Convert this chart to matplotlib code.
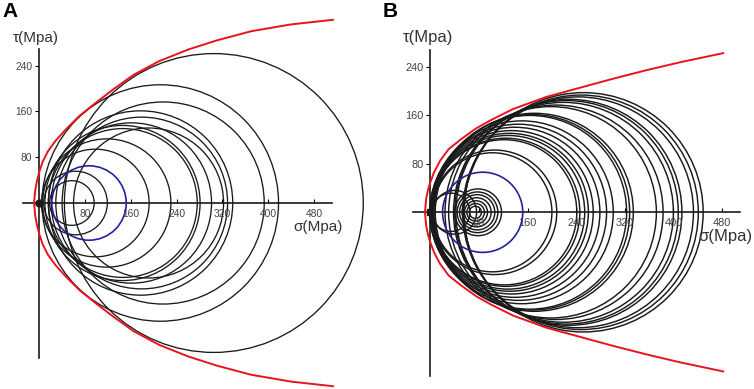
import matplotlib.pyplot as plt
from matplotlib.patches import Circle

plt.rcParams['font.family'] = ['Liberation Sans', 'DejaVu Sans']

# ---- panel A: Mohr circles (sigma3, sigma1) in MPa
a_sigma3 = [44, 5, 40, 16, 29, 60, 21, 10, 16, 6, 4, 8, 18]
a_sigma1 = [566, 418, 393, 338, 329, 322, 301, 281, 276, 230, 192, 119, 96]
a_blue = (22, 152)
# failure envelope (upper branch)
a_env_sigma = [-9, -7, -4, 0, 6, 15, 28, 45, 70, 100, 130, 165, 210, 260, 310, 370, 440, 513]
a_env_tau = [0, 22, 38, 54, 72, 90, 108, 127, 152, 176, 199, 224, 248, 268, 284, 300, 312, 320]

# ---- panel B
b_sigma3 = [55, 55, 53, 42, 40, 38, 30, 24, 8, 6, 4, 0, 0, -1, -1, 0, 1, 2, 2, 3, 4,
            2, 4, 40, 44, 48, 52, 56, 60, 64]
b_sigma1 = [449, 441, 433, 414, 408, 400, 383, 372, 334, 328, 323, 301, 290, 279, 268, 260, 254, 246, 241, 208, 200,
            65, 76, 117, 111, 106, 100, 94, 89, 84]
b_blue = (20, 152)
b_env_sigma = [-9, -7, -4, 0, 6, 16, 30, 50, 75, 100, 136, 191, 246, 301, 356, 411, 482]
b_env_tau = [0, 22, 37, 50, 66, 85, 104, 120, 138, 152, 170, 190, 205, 220, 234, 247, 262]

xticks = [80, 160, 240, 320, 400, 480]
yticks = [80, 160, 240]


def draw_panel(ax, s3, s1, blue, env_s, env_t, xlim, ylim, xbounds, ybounds,
               fs_tick, fs_lab, tau_xy, sig_xy, dot, lw):
    for lo, hi in zip(s3, s1):
        ax.add_patch(Circle(((lo + hi) / 2, 0), (hi - lo) / 2, fill=False,
                            ec='#1a1a1a', lw=lw))
    ax.add_patch(Circle(((blue[0] + blue[1]) / 2, 0), (blue[1] - blue[0]) / 2,
                        fill=False, ec='#22229a', lw=1.2, zorder=3))
    ax.plot(env_s, env_t, color='#e8141c', lw=1.4, zorder=4)
    ax.plot(env_s, [-t for t in env_t], color='#e8141c', lw=1.4, zorder=4)
    ax.plot([0], [0], marker=dot, color='#1a1a1a', ms=5, zorder=5)

    ax.set_xlim(*xlim)
    ax.set_ylim(*ylim)
    ax.patch.set_visible(False)
    for s in ['top', 'right']:
        ax.spines[s].set_visible(False)
    ax.spines['left'].set_position(('data', 0))
    ax.spines['bottom'].set_position(('data', 0))
    ax.spines['bottom'].set_bounds(*xbounds)
    ax.spines['left'].set_bounds(*ybounds)
    for s in ['left', 'bottom']:
        ax.spines[s].set_linewidth(1.2)
        ax.spines[s].set_color('#1a1a1a')
        ax.spines[s].set_zorder(2)
    ax.set_xticks(xticks)
    ax.set_yticks(yticks)
    ax.tick_params(axis='x', direction='in', length=3, width=0.8, pad=4,
                   labelsize=fs_tick, labelcolor='#444444')
    ax.tick_params(axis='y', direction='out', length=3, width=0.8, pad=2,
                   labelsize=fs_tick, labelcolor='#444444')
    ax.text(tau_xy[0], tau_xy[1], 'τ(Mpa)', ha='center', va='center',
            fontsize=fs_lab, color='#333333')
    ax.text(sig_xy[0], sig_xy[1], 'σ(Mpa)', ha='center', va='center',
            fontsize=fs_lab, color='#333333')


fig = plt.figure(figsize=(7.54, 3.89), dpi=100)

ax_a = fig.add_axes([0, 0, 375 / 754, 1])
draw_panel(ax_a, a_sigma3, a_sigma1, a_blue, a_env_sigma, a_env_tau,
           (-68.5, 586.5), (-324.9, 354.6), (-29, 511), (-271, 269),
           7.4, 11, (-6, 288), (487, -42), 'o', 0.95)

ax_b = fig.add_axes([378 / 754, 0, 376 / 754, 1])
draw_panel(ax_b, b_sigma3, b_sigma1, b_blue, b_env_sigma, b_env_tau,
           (-86.3, 532.7), (-290.9, 349.5), (-28.6, 509.6), (-269, 267),
           7.9, 12, (-4, 287), (485, -40), 's', 1.05)

fig.text(2 / 754, 1 - 2 / 389, 'A', fontsize=15, fontweight='bold', ha='left', va='top')
fig.text(383 / 754, 1 - 2 / 389, 'B', fontsize=15, fontweight='bold', ha='left', va='top')

fig.savefig('out.png', dpi=100)
